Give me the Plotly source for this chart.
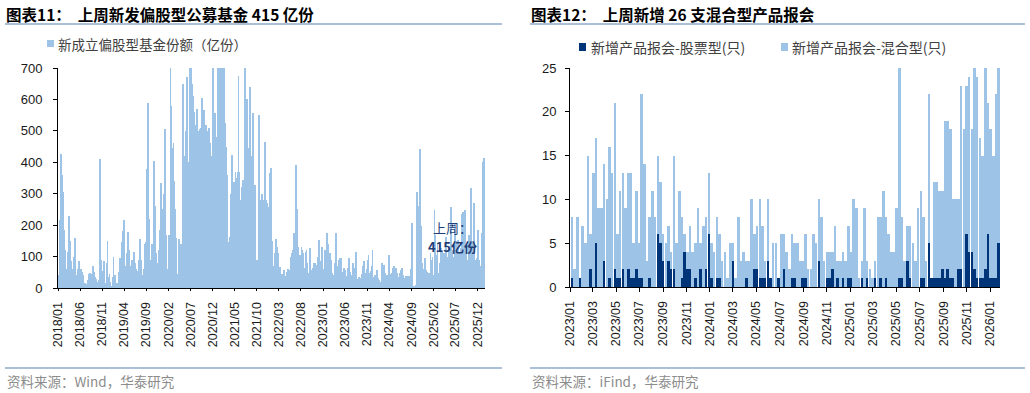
import plotly.graph_objects as go
import pandas as pd

# ---------------- data ----------------
# Left chart: weekly new equity-biased fund shares (亿份), weekly from 2018-01-05
share_start = "2018-01-05"
shares_2018_2020 = [
    40, 215, 427, 360, 305, 183, 120, 60, 10, 115, 230, 150, 85, 60, 55, 100,
    160, 20, 40, 60, 85, 60, 60, 50, 40, 15, 15, 12, 10, 25, 45, 48,
    45, 30, 70, 50, 35, 30, 10, 18, 25, 412, 90, 55, 30, 85, 15, 80,
    150, 35, 45, 20, 5, 35, 100, 40, 5, 15, 15, 50, 95, 90, 145, 180,
    215, 70, 65, 110, 178, 120, 50, 70, 90, 55, 115, 80, 60, 55, 30, 90,
    155, 90, 20, 40, 60, 140, 145, 380, 590, 220, 30, 90, 140, 80, 405, 260,
    110, 80, 70, 120, 185, 335, 200, 250, 300, 505, 170, 60, 20, 170, 760, 580,
    445, 460, 340, 250, 160, 45, 155, 140, 135, 140, 650, 420, 330, 500, 670, 400,
    180, 780, 850, 650, 610, 560, 460, 520, 570, 490, 500, 505, 510,
]
shares_2020_2023 = [
    604, 461, 567, 328, 520, 492, 498, 509, 461, 420, 370, 760, 391, 556, 480,
    349, 820, 900, 760, 880, 790, 599, 840, 524, 450, 360, 147, 116, 163, 300,
    423, 338, 338, 370, 350, 370, 673, 370, 280, 320, 344, 344, 730, 567, 600,
    445, 355, 641, 355, 420, 556, 318, 328, 90, 60, 90, 551, 280, 275, 300,
    237, 280, 466, 280, 270, 259, 190, 365, 381, 150, 69, 69, 111, 155, 130,
    111, 66, 66, 37, 45, 26, 58, 26, 37, 50, 62, 58, 48, 100, 110,
    122, 174, 122, 391, 250, 132, 105, 105, 132, 120, 111, 64, 116, 122, 80,
    48, 127, 42, 58, 65, 79, 79, 73, 53, 100, 153, 85, 32, 132, 60,
    21, 122, 116, 174, 140, 111, 111, 90, 48, 40, 37, 79, 174, 48, 70,
    90, 96, 96, 37, 50, 64, 58, 26,
]
shares_2023_2026 = [
    37, 64, 96, 50, 36, 42, 79, 40, 64, 116, 26, 30, 36, 15, 31, 45,
    69, 85, 48, 60, 90, 105, 48, 55, 69, 120, 36, 40, 42, 58, 31, 25,
    15, 20, 79, 60, 73, 48, 26, 40, 36, 105, 36, 45, 48, 64, 69, 50,
    64, 48, 26, 35, 48, 58, 64, 40, 26, 31, 37, 30, 37, 31, 37, 60,
    207, 7, 5, 5, 10, 306, 180, 260, 441, 196, 79, 60, 48, 96, 58, 50,
    48, 48, 111, 90, 100, 42, 249, 170, 105, 143, 48, 80, 127, 116, 90, 110,
    90, 163, 90, 100, 127, 96, 259, 120, 69, 100, 207, 150, 132, 153, 105, 110,
    127, 237, 242, 200, 249, 132, 15, 90, 170, 132, 318, 150, 100, 269, 90, 80,
    96, 185, 90, 70, 48, 174, 402, 415,
]
left_tick_labels = ["2018/01", "2018/06", "2018/11", "2019/04", "2019/09", "2020/02",
                    "2020/07", "2020/12", "2021/05", "2021/10", "2022/03", "2022/08",
                    "2023/01", "2023/06", "2023/11", "2024/04", "2024/09", "2025/02",
                    "2025/07", "2025/12"]

# Right chart: weekly new product filings (只), weekly from 2023-01-06
report_start = "2023-01-06"
mixed_reports = [
    8, 2, 8, 1, 7, 5, 15, 6, 13, 17, 9, 9, 14, 10, 16, 13, 21, 6, 11, 13,
    9, 13, 13, 5, 11, 5, 22, 14, 3, 8, 11, 8, 15, 12, 6, 5, 7, 4, 15, 5,
    11, 8, 6, 4, 7, 4, 5, 9, 5, 7, 8, 13, 5, 4, 8, 6, 3, 4, 1, 5,
    5, 1, 8, 3, 4, 3, 3, 10, 6, 7, 10, 7, 3, 10, 1, 5, 5, 1, 6, 6,
    4, 2, 6, 5, 5, 3, 3, 6, 2, 2, 6, 5, 10, 8, 3, 4, 4, 4, 7, 3,
    3, 4, 3, 7, 4, 10, 9, 1, 3, 9, 3, 2, 1, 3, 8, 8, 11, 8, 6, 4,
    4, 9, 25, 8, 3, 7, 7, 5, 3, 9, 11, 8, 3, 22, 1, 12, 12, 11, 11, 19,
    19, 18, 10, 10, 10, 23, 18, 23, 24, 18, 25, 24, 17, 15, 25, 21, 18, 15, 22, 26,
]
stock_reports = [
    1, 0, 0, 1, 0, 0, 0, 2, 0, 5, 0, 0, 3, 0, 1, 0, 2, 1, 1, 2,
    0, 2, 1, 1, 2, 1, 1, 0, 0, 1, 0, 0, 6, 5, 3, 0, 3, 2, 2, 0,
    0, 1, 4, 2, 2, 0, 1, 0, 2, 0, 2, 6, 1, 0, 1, 1, 0, 0, 0, 0,
    3, 0, 0, 0, 0, 1, 0, 0, 2, 2, 1, 1, 1, 3, 1, 0, 0, 1, 0, 2,
    0, 0, 1, 1, 0, 0, 1, 1, 0, 0, 0, 0, 3, 0, 0, 1, 1, 2, 0, 1,
    0, 1, 0, 1, 1, 0, 0, 0, 1, 0, 1, 0, 0, 1, 0, 1, 0, 1, 0, 0,
    0, 0, 1, 1, 0, 3, 1, 0, 0, 0, 1, 1, 0, 5, 1, 1, 1, 1, 2, 1,
    2, 1, 1, 0, 2, 2, 0, 6, 4, 4, 2, 1, 1, 1, 2, 6, 1, 1, 1, 5,
]
right_tick_labels = ["2023/01", "2023/03", "2023/05", "2023/07", "2023/09", "2023/11",
                     "2024/01", "2024/03", "2024/05", "2024/07", "2024/09", "2024/11",
                     "2025/01", "2025/03", "2025/05", "2025/07", "2025/09", "2025/11",
                     "2026/01"]

# ---------------- build ----------------
W, H = 1030, 393
shares = shares_2018_2020 + shares_2020_2023 + shares_2023_2026
share_dates = pd.date_range(share_start, periods=len(shares), freq="7D")
report_dates = pd.date_range(report_start, periods=len(mixed_reports), freq="7D")

LIGHT = "#9DC3E6"
DARK = "#003478"
FONT = "Liberation Sans, Arial, Noto Sans CJK SC, sans-serif"
CJK = "Noto Sans CJK SC, Liberation Sans, sans-serif"
PAD = pd.Timedelta(days=5)
DAY_MS = 86400000


def fx(px):
    return px / W


def fy(py):
    return 1 - py / H


fig = go.Figure()
fig.add_trace(go.Bar(x=share_dates, y=shares, name="新成立偏股型基金份额（亿份）",
                     marker=dict(color=LIGHT, line=dict(width=0)),
                     width=6 * DAY_MS, xaxis="x", yaxis="y", showlegend=False))
fig.add_trace(go.Bar(x=report_dates, y=mixed_reports, name="新增产品报会-混合型(只)",
                     marker=dict(color=LIGHT, line=dict(width=0)),
                     width=6.6 * DAY_MS, xaxis="x2", yaxis="y2", showlegend=False))
fig.add_trace(go.Bar(x=report_dates, y=stock_reports, name="新增产品报会-股票型(只)",
                     marker=dict(color=DARK, line=dict(width=0)),
                     width=6.6 * DAY_MS, xaxis="x2", yaxis="y2", showlegend=False))

left_tickvals = [pd.to_datetime(t, format="%Y/%m") for t in left_tick_labels]
right_tickvals = [pd.to_datetime(t, format="%Y/%m") for t in right_tick_labels]

axis_common = dict(showgrid=False, zeroline=False, showline=True, linecolor="#000000",
                   linewidth=1, automargin=False,
                   tickfont=dict(family=FONT, size=12.5, color="#1a1a1a"))
ytick_font = dict(family=FONT, size=13, color="#1a1a1a")

fig.update_layout(
    template="none",
    width=W, height=H, margin=dict(l=0, r=0, t=0, b=0, pad=0),
    paper_bgcolor="white", plot_bgcolor="white",
    barmode="overlay", bargap=0,
    xaxis=dict(domain=[fx(58), fx(485)], anchor="y", type="date",
               range=[share_dates[0] - PAD, share_dates[-1] + PAD],
               tickmode="array", tickvals=left_tickvals, ticktext=left_tick_labels,
               tickangle=-90, ticks="outside", ticklen=2, tickcolor="#000000",
               ticklabelstandoff=6, **axis_common),
    yaxis=dict(domain=[fy(288), fy(68)], anchor="x", range=[0, 700], dtick=100,
               ticks="outside", ticklen=4, tickcolor="#000000", ticklabelstandoff=8,
               **{**axis_common, "tickfont": ytick_font}),
    xaxis2=dict(domain=[fx(570), fx(1000)], anchor="y2", type="date",
                range=[report_dates[0] - PAD, report_dates[-1] + pd.Timedelta(days=3.5)],
                tickmode="array", tickvals=right_tickvals, ticktext=right_tick_labels,
                tickangle=-90, ticks="outside", ticklen=4, tickcolor="#000000",
                ticklabelstandoff=4, **axis_common),
    yaxis2=dict(domain=[fy(287), fy(68)], anchor="x2", range=[0, 25], dtick=5,
                ticks="outside", ticklen=4, tickcolor="#000000", ticklabelstandoff=6,
                **{**axis_common, "tickfont": ytick_font}),
)

LINE_C = "#8FAACB"
shapes = [
    dict(type="line", xref="paper", yref="paper", x0=fx(5), x1=fx(502), y0=fy(24), y1=fy(24),
         line=dict(color=LINE_C, width=1.3)),
    dict(type="line", xref="paper", yref="paper", x0=fx(530), x1=fx(1025), y0=fy(24), y1=fy(24),
         line=dict(color=LINE_C, width=1.3)),
    dict(type="line", xref="paper", yref="paper", x0=fx(5), x1=fx(502), y0=fy(368), y1=fy(368),
         line=dict(color=LINE_C, width=1.3)),
    dict(type="line", xref="paper", yref="paper", x0=fx(530), x1=fx(1025), y0=fy(368), y1=fy(368),
         line=dict(color=LINE_C, width=1.3)),
    # legend swatches
    dict(type="rect", xref="paper", yref="paper", x0=fx(47), x1=fx(54), y0=fy(47), y1=fy(40),
         fillcolor=LIGHT, line=dict(width=0)),
    dict(type="rect", xref="paper", yref="paper", x0=fx(579), x1=fx(586), y0=fy(51), y1=fy(43),
         fillcolor=DARK, line=dict(width=0)),
    dict(type="rect", xref="paper", yref="paper", x0=fx(781), x1=fx(788), y0=fy(51), y1=fy(43),
         fillcolor=LIGHT, line=dict(width=0)),
]
fig.update_layout(shapes=shapes)


def note(x, y, text, size, color, bold=False, family=CJK, xanchor="left"):
    if bold:
        text = "<b>" + text + "</b>"
    fig.add_annotation(xref="paper", yref="paper", x=fx(x), y=fy(y), text=text,
                       showarrow=False, xanchor=xanchor, yanchor="middle",
                       font=dict(family=family, size=size, color=color))


note(4, 14, "图表11：  上周新发偏股型公募基金 415 亿份", 15.5, "#000000", bold=True)
note(529, 14, "图表12：  上周新增 26 支混合型产品报会", 15.5, "#000000", bold=True)
note(56, 44, "新成立偏股型基金份额（亿份）", 13.5, "#404040")
note(589, 47, "新增产品报会-股票型(只)", 14, "#404040")
note(790, 47, "新增产品报会-混合型(只)", 14, "#404040")
note(5, 381, "资料来源：Wind，华泰研究", 13.5, "#8c8c8c")
note(530, 381, "资料来源：iFind，华泰研究", 13.5, "#8c8c8c")
note(452, 227, "上周：", 13, "#1F3E76", xanchor="center")
note(452, 246, "415亿份", 13, "#1F3E76", bold=True, xanchor="center")

fig.write_html("out.html", config={"displayModeBar": False},
               post_script="document.body.style.margin='0';document.body.style.padding='0';")
